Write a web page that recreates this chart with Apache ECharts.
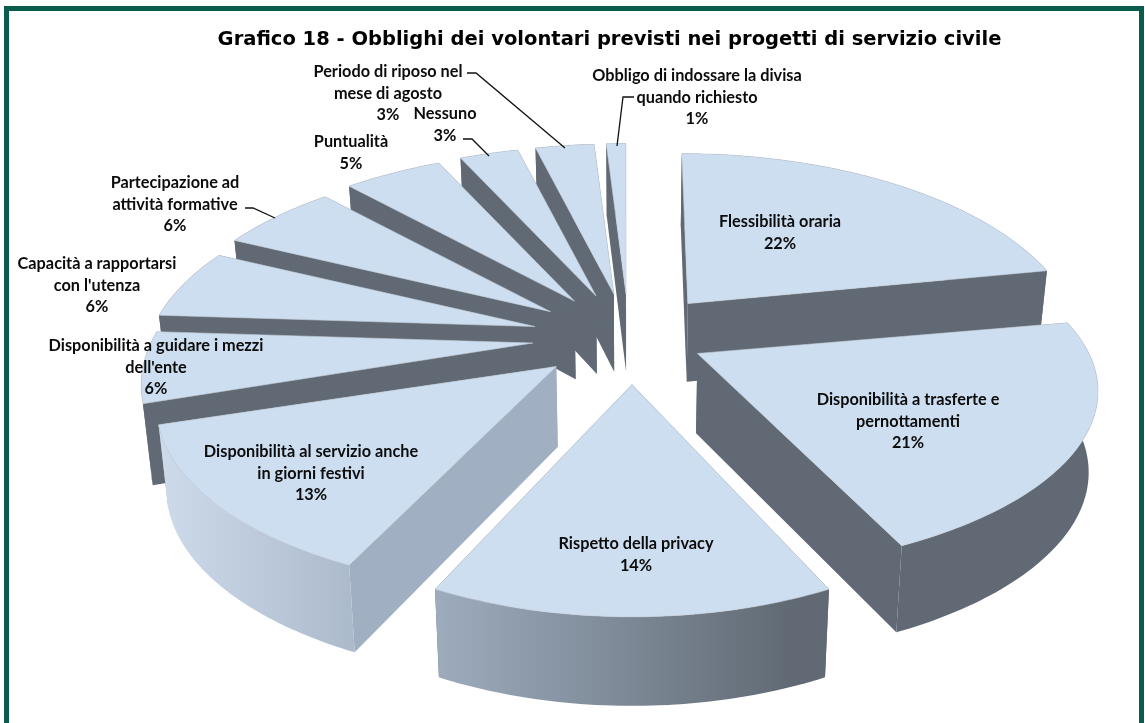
<!DOCTYPE html>
<html><head><meta charset="utf-8">
<style>html,body{margin:0;padding:0;background:#fff}#c{width:1145px;height:723px}</style>
<script src="https://cdn.jsdelivr.net/npm/echarts@6/dist/echarts.min.js"></script>
</head><body><div id="c"></div>
<script>
const titleText = 'Grafico 18 - Obblighi dei volontari previsti nei progetti di servizio civile';
const categories = ['Flessibilità oraria','Disponibilità a trasferte e\npernottamenti','Rispetto della privacy','Disponibilità al servizio anche\nin giorni festivi','Disponibilità a guidare i mezzi\ndell\'ente','Capacità a rapportarsi\ncon l\'utenza','Partecipazione ad\nattività formative','Puntualità','Nessuno','Periodo di riposo nel\nmese di agosto','Obbligo di indossare la divisa\nquando richiesto'];
const values = [22,21,14,13,6,6,6,5,3,3,1];

// layout only (pixels)
const labelAt = [[780,222],[908,400],[636,544],[311,452],[156,346],[97,264],[175,183],[351,142],[445,114],[388,72],[697,76]];
const leaders = {6:[[245,208],[253,208],[275,218]],8:[[463,139],[472,139],[489,156]],9:[[467,73],[476,73],[565,148]],10:[[634,97],[623,97],[617,146]]};
const C=[629,337.5], EX=97, EY=44, RX=382, RY=183, P=0.22;
// per-slice perspective corrections: dx, dy, scaleX, scaleY, shear
const tweak={0:[-3,0,1,1,0.04],1:[-18,-4,1.025,0.93,-0.02],2:[3,3,0.97,0.99,0],3:[0,0,1.02,0.96,0]};
const TOP='#cddef1', DARK='#616a74';
const rimGrad=()=>new echarts.graphic.LinearGradient(150,0,790,0,[{offset:0,color:'#cfdcec'},{offset:0.42,color:'#a0afc1'},{offset:1,color:DARK}],true);
const wallColor=i=>i===3?'#a0afc2':DARK;
const rimColor=i=>(i===2||i===3)?rimGrad():DARK;

const total=values.reduce((a,b)=>a+b,0);
let acc=0;
const slices=values.map((v,i)=>{const a0=acc/total*2*Math.PI;acc+=v;return{i,a0,a1:acc/total*2*Math.PI};});
const order=slices.slice().sort((s,t)=>(-Math.cos((s.a0+s.a1)/2))-(-Math.cos((t.a0+t.a1)/2)));

function build(s){
  const mid=(s.a0+s.a1)/2,n=tweak[s.i]||[0,0,1,1,0];
  const ax=C[0]+EX*Math.sin(mid)+n[0], ay=C[1]-EY*Math.cos(mid)+n[1];
  const pt=a=>{const u=Math.sin(a),v=-Math.cos(a),w=1/(1-P*v);const dy=RY*v*w*n[3];return[ax+RX*u*w*n[2]+dy*n[4],ay+dy];};
  const down=p=>[p[0]+(630-p[0])*0.02,p[1]+78+0.035*(p[1]-300)];
  const arc=[];const N=Math.max(3,Math.ceil((s.a1-s.a0)*180/Math.PI));
  for(let k=0;k<=N;k++)arc.push(pt(s.a0+(s.a1-s.a0)*k/N));
  return{apex:[ax,ay],arc,down};
}
function renderItem(params,api){
  const s=order[params.dataIndex],g=build(s),z=params.dataIndex*4+1,ch=[];
  const A=g.apex,d=g.down,first=g.arc[0],last=g.arc[g.arc.length-1];
  ch.push({type:'polygon',z2:z,shape:{points:[A,first,d(first),d(A)]},style:{fill:wallColor(s.i)}});
  ch.push({type:'polygon',z2:z,shape:{points:[A,last,d(last),d(A)]},style:{fill:wallColor(s.i)}});
  ch.push({type:'polygon',z2:z+1,shape:{points:g.arc.concat(g.arc.map(d).reverse())},style:{fill:rimColor(s.i)}});
  ch.push({type:'polygon',z2:z+2,shape:{points:[A].concat(g.arc)},style:{fill:TOP,stroke:'#c4ccd6',lineWidth:0.6}});
  const lab=labelAt[s.i];
  const lines=categories[s.i].split('\n').concat([api.value(0)+'%']);
  lines.forEach((t,k)=>ch.push({type:'text',z2:200,style:{x:lab[0],y:lab[1]+k*21.5,text:t,align:'center',verticalAlign:'middle',fill:'#0c0c0c',font:'bold 16.3px Lato'}}));
  if(leaders[s.i])ch.push({type:'polyline',z2:201,shape:{points:leaders[s.i]},style:{stroke:'#111',lineWidth:1.3,fill:null}});
  return{type:'group',children:ch};
}
const chart=echarts.init(document.getElementById('c'),null,{renderer:'canvas'});
chart.setOption({
  animation:false,
  backgroundColor:'#fff',
  title:{text:titleText,left:609.5-5,top:25,textAlign:'center',textStyle:{fontFamily:'DejaVu Sans',fontWeight:'bold',fontSize:19.5,color:'#000'}},
  graphic:[{type:'rect',z:-1,shape:{x:6.5,y:8.5,width:1135,height:730},style:{fill:'#fff',stroke:'#0b5c4d',lineWidth:5}}],
  series:[{type:'custom',coordinateSystem:'none',renderItem,clip:false,
    data:order.map(s=>({name:categories[s.i].replace('\n',' '),value:[values[s.i]]}))}]
});
</script></body></html>
